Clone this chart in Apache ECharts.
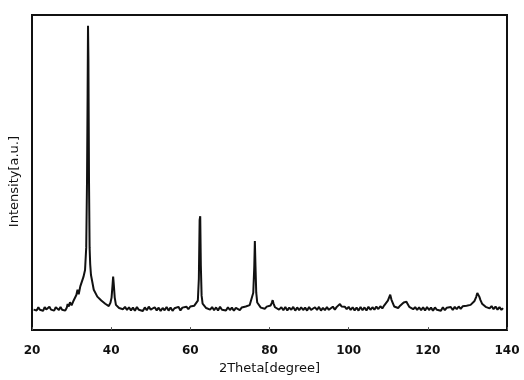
<!DOCTYPE html>
<html>
<head>
<meta charset="utf-8">
<title>XRD</title>
<script src="https://cdn.jsdelivr.net/npm/echarts@6/dist/echarts.min.js"></script>
<style>
  html, body { margin: 0; padding: 0; background: #fff; }
</style>
</head>
<body>
<div id="main" style="width:524px;height:380px;"></div>
<script>
// 2theta positions (degree) and intensity
var twoTheta = [
  20.4, 20.8, 21.2, 21.6, 22.0, 22.4, 22.8, 23.2, 23.6, 24.0, 24.4, 24.8, 25.2, 25.6, 26.0, 26.4, 26.8, 27.2, 27.6, 28.0, 28.4, 28.8,
  29.0, 29.3, 29.6, 30.0, 30.4, 30.8, 31.2, 31.5, 31.8, 32.2, 32.6, 33.0, 33.4, 33.7, 33.9, 34.05, 34.15, 34.25, 34.4, 34.55, 34.7, 34.9,
  35.2, 35.6, 36.0, 36.5, 37.0, 37.5, 38.0, 38.5, 39.0, 39.4, 39.8, 40.1, 40.35, 40.5, 40.65, 40.9, 41.2, 41.6, 42.0, 42.5, 43.0,
  43.5, 44, 44.5, 45, 45.5, 46, 46.5, 47, 47.5, 48, 48.5, 49, 49.5, 50, 50.5, 51, 51.5, 52, 52.5, 53, 53.5, 54, 54.5, 55, 55.5, 56,
  56.5, 57, 57.5, 58, 58.5, 59, 59.5, 60, 60.5, 61, 61.5, 61.9, 62.15, 62.35, 62.5, 62.65, 62.85, 63.1, 63.5, 64, 64.5, 65, 65.5, 66,
  66.5, 67, 67.5, 68, 68.5, 69, 69.5, 70, 70.5, 71, 71.5, 72, 72.5, 73, 73.5, 74, 74.5, 75, 75.5, 75.9, 76.15, 76.3, 76.45, 76.65, 76.9,
  77.3, 77.8, 78.3, 78.8, 79.3, 79.8, 80.3, 80.6, 80.8, 81.0, 81.4, 81.9, 82.4, 83, 83.5, 84, 84.5, 85, 85.5, 86, 86.5, 87, 87.5, 88,
  88.5, 89, 89.5, 90, 90.5, 91, 91.5, 92, 92.5, 93, 93.5, 94, 94.5, 95, 95.5, 96, 96.5, 97, 97.4, 97.8, 98.2, 98.6, 99, 99.5, 100,
  100.5, 101, 101.5, 102, 102.5, 103, 103.5, 104, 104.5, 105, 105.5, 106, 106.5, 107, 107.5, 108, 108.5, 109, 109.5, 109.9, 110.2,
  110.5, 110.8, 111.1, 111.5, 112, 112.5, 113, 113.5, 113.9, 114.3, 114.6, 114.9, 115.3, 115.8, 116.3, 116.8, 117.3, 117.8, 118.3,
  118.8, 119.3, 119.8, 120.3, 120.8, 121.3, 121.8, 122.3, 122.8, 123.3, 123.8, 124.3, 124.8, 125.3, 125.8, 126.3, 126.8, 127.3,
  127.8, 128.3, 128.8, 129.3, 129.8, 130.3, 130.8, 131.3, 131.8, 132.2, 132.5, 132.7, 133.0, 133.3, 133.7, 134.1, 134.6, 135.1,
  135.6, 136.1, 136.6, 137.1, 137.6, 138.1, 138.6, 139.0
];
var intensity = [
  104, 114, 100, 116, 103, 112, 98, 117, 105, 101, 119, 104, 113, 99, 116, 106, 102, 118, 103, 111, 99, 115,
  132, 120, 141, 126, 145, 138, 178, 205, 182, 222, 232, 270, 305, 420, 760, 1200, 1545, 1380, 760, 420, 335, 280,
  248, 205, 198, 170, 176, 150, 156, 134, 140, 122, 138, 165, 230, 272, 235, 165, 128, 132, 112, 122, 106,
  118, 102, 116, 100, 114, 98, 117, 103, 113, 97, 115, 101, 119, 104, 99, 116, 100, 114, 97, 112, 101, 117, 99, 115, 98, 111,
  103, 118, 100, 114, 104, 119, 106, 120, 112, 124, 118, 150, 260, 560, 578, 330, 175, 134, 128, 112, 120, 104, 117, 101,
  115, 100, 118, 103, 112, 99, 116, 102, 114, 98, 113, 117, 101, 115, 107, 120, 112, 127, 132, 190, 320, 452, 330, 190, 140,
  132, 114, 121, 108, 119, 110, 125, 140, 152, 136, 116, 119, 104, 116, 101, 117, 100, 114, 103, 118, 99, 115, 101, 116,
  102, 114, 99, 117, 103, 100, 116, 102, 118, 99, 113, 101, 117, 103, 112, 119, 104, 118, 122, 133, 120, 110, 119, 106, 118,
  102, 116, 100, 114, 99, 117, 101, 115, 100, 118, 103, 116, 104, 119, 107, 121, 110, 126, 132, 150, 165,
  180, 155, 140, 120, 126, 112, 124, 126, 140, 147, 144, 132, 118, 121, 106, 117, 103, 115, 101,
  116, 100, 117, 102, 114, 99, 115, 103, 112, 98, 116, 101, 114, 104, 117, 102, 118, 106,
  120, 108, 121, 112, 124, 116, 128, 132, 148, 168, 188, 195, 170, 152, 134, 132, 118, 127,
  110, 122, 106, 120, 104, 117, 103, 112
];
var xTicks = [20, 40, 60, 80, 100, 120, 140];

var points = twoTheta.map(function (t, i) { return [t, intensity[i]]; });

var myChart = echarts.init(document.getElementById('main'));
var option = {
  backgroundColor: '#fff',
  animation: false,
  grid: {
    left: 32, right: 17, top: 15, bottom: 48,
    show: true,
    borderColor: '#111',
    borderWidth: 2
  },
  xAxis: {
    type: 'value',
    min: xTicks[0],
    max: xTicks[xTicks.length - 1],
    interval: 20,
    name: '2Theta[degree]',
    nameLocation: 'middle',
    nameGap: 28,
    nameTextStyle: { color: '#111', fontSize: 13, fontFamily: 'DejaVu Sans' },
    axisLine: { show: true, lineStyle: { color: '#111', width: 2 } },
    axisTick: { show: true, inside: true, length: 3, lineStyle: { color: '#555' } },
    axisLabel: { color: '#111', fontSize: 12, fontWeight: 'bold', fontFamily: 'DejaVu Sans', margin: 15 },
    splitLine: { show: false }
  },
  yAxis: {
    type: 'value',
    min: 0,
    max: 1600,
    name: 'Intensity[a.u.]',
    nameLocation: 'middle',
    nameGap: 11,
    nameTextStyle: { color: '#111', fontSize: 13, fontFamily: 'DejaVu Sans', padding: [0, 18, 0, 0] },
    axisLine: { show: true, lineStyle: { color: '#111', width: 2 } },
    axisTick: { show: false },
    axisLabel: { show: false },
    splitLine: { show: false }
  },
  series: [{
    type: 'line',
    data: points,
    symbol: 'none',
    lineStyle: { color: '#111', width: 2 }
  }]
};
myChart.setOption(option);
</script>
</body>
</html>
